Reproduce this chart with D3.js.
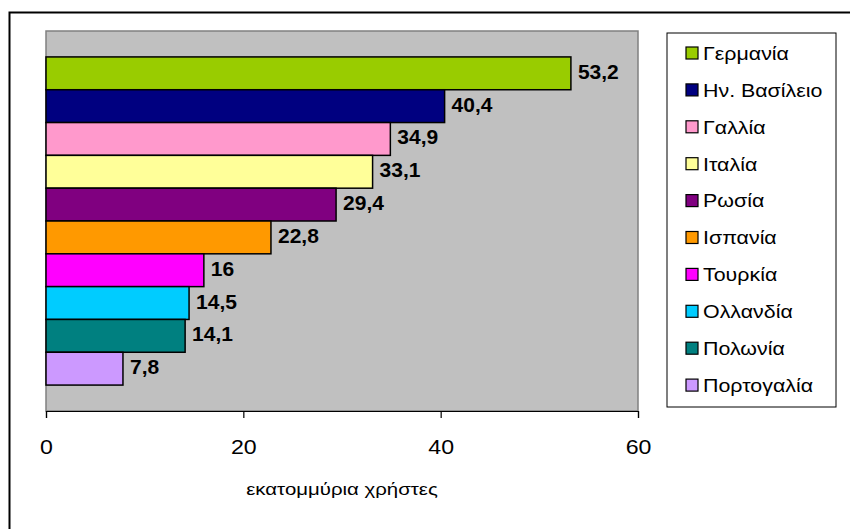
<!DOCTYPE html>
<html>
<head>
<meta charset="utf-8">
<script src="https://cdn.jsdelivr.net/npm/d3@7"></script>
<style>
  body { margin: 0; background: #fff; }
  svg text { font-family: Arial, "Liberation Sans", sans-serif; }
</style>
</head>
<body>
<svg class="chart"></svg>
<script>
var svgWidth = 850, svgHeight = 529;

var countries = ['Γερμανία', 'Ην. Βασίλειο', 'Γαλλία', 'Ιταλία', 'Ρωσία',
                 'Ισπανία', 'Τουρκία', 'Ολλανδία', 'Πολωνία', 'Πορτογαλία'];
var users = [53.2, 40.4, 34.9, 33.1, 29.4, 22.8, 16, 14.5, 14.1, 7.8];
var valueLabels = ['53,2', '40,4', '34,9', '33,1', '29,4', '22,8', '16', '14,5', '14,1', '7,8'];
var xTicks = [0, 20, 40, 60];
var axisTitle = 'εκατομμύρια χρήστες';
var colors = ['#99CC00', '#000080', '#FF99CC', '#FFFF99', '#800080',
              '#FF9900', '#FF00FF', '#00CCFF', '#008080', '#CC99FF'];

var rows = countries.map(function (c, i) {
  return { country: c, value: users[i], label: valueLabels[i], color: colors[i] };
});

var plot = { left: 46, top: 31, right: 638, bottom: 411 };

var svg = d3.select('svg.chart').attr('width', svgWidth).attr('height', svgHeight);

// outer frame
svg.append('rect')
  .attr('x', 9.5).attr('y', 12.5)
  .attr('width', 900).attr('height', 600)
  .attr('fill', 'none').attr('stroke', '#000').attr('stroke-width', 2);

var x = d3.scaleLinear().domain([0, 60]).range([plot.left, plot.right]);
var y = d3.scaleBand().domain(countries)
  .range([plot.top, plot.bottom])
  .paddingInner(0).paddingOuter(0.79);

// plot area
svg.append('rect')
  .attr('x', plot.left).attr('y', plot.top)
  .attr('width', plot.right - plot.left).attr('height', plot.bottom - plot.top)
  .attr('fill', '#C0C0C0').attr('stroke', '#808080').attr('stroke-width', 1.5);

// bars
svg.append('g').selectAll('rect.bar')
  .data(rows)
  .enter()
  .append('rect')
  .attr('class', 'bar')
  .attr('x', x(0))
  .attr('y', function (d) { return y(d.country); })
  .attr('width', function (d) { return x(d.value) - x(0); })
  .attr('height', y.bandwidth())
  .attr('fill', function (d) { return d.color; })
  .attr('stroke', '#000')
  .attr('stroke-width', 1.5);

// value labels
svg.append('g').selectAll('text')
  .data(rows)
  .enter()
  .append('text')
  .attr('x', function (d) { return x(d.value) + 7; })
  .attr('y', function (d) { return y(d.country) + y.bandwidth() / 2 + 5.5; })
  .attr('font-size', 21)
  .attr('font-weight', 'bold')
  .attr('fill', '#000')
  .text(function (d) { return d.label; });

// x axis
var xAxis = d3.axisBottom(x).tickValues(xTicks).tickSize(7).tickPadding(21)
  .tickFormat(d3.format('d'));
var gx = svg.append('g')
  .attr('transform', 'translate(0,' + plot.bottom + ')')
  .call(xAxis);
gx.select('.domain').attr('stroke', '#000').attr('stroke-width', 1.2);
gx.selectAll('.tick line').attr('stroke', '#000').attr('stroke-width', 1.2);
gx.selectAll('.tick text')
  .attr('font-size', 20.5)
  .attr('font-family', 'Arial, "Liberation Sans", sans-serif')
  .attr('fill', '#000')
  .attr('transform', 'scale(1.13,1)');

svg.append('text')
  .attr('transform', 'translate(' + ((plot.left + plot.right) / 2) + ',495) scale(1.18,1)')
  .attr('text-anchor', 'middle')
  .attr('font-size', 17.3)
  .attr('fill', '#000')
  .text(axisTitle);

// legend
var legend = svg.append('g').attr('class', 'legend');
legend.append('rect')
  .attr('x', 667).attr('y', 33)
  .attr('width', 169).attr('height', 374)
  .attr('fill', '#fff').attr('stroke', '#000').attr('stroke-width', 1);

var item = legend.selectAll('g.item')
  .data(rows)
  .enter()
  .append('g')
  .attr('class', 'item')
  .attr('transform', function (d, i) { return 'translate(686,' + (53 + i * 36.9) + ')'; });

item.append('rect')
  .attr('x', 0).attr('y', -6)
  .attr('width', 12).attr('height', 12)
  .attr('fill', function (d) { return d.color; })
  .attr('stroke', '#000').attr('stroke-width', 1.2);

item.append('text')
  .attr('transform', 'translate(17,6.8) scale(1.15,1)')
  .attr('font-size', 18.6)
  .attr('fill', '#000')
  .text(function (d) { return d.country; });
</script>
</body>
</html>
